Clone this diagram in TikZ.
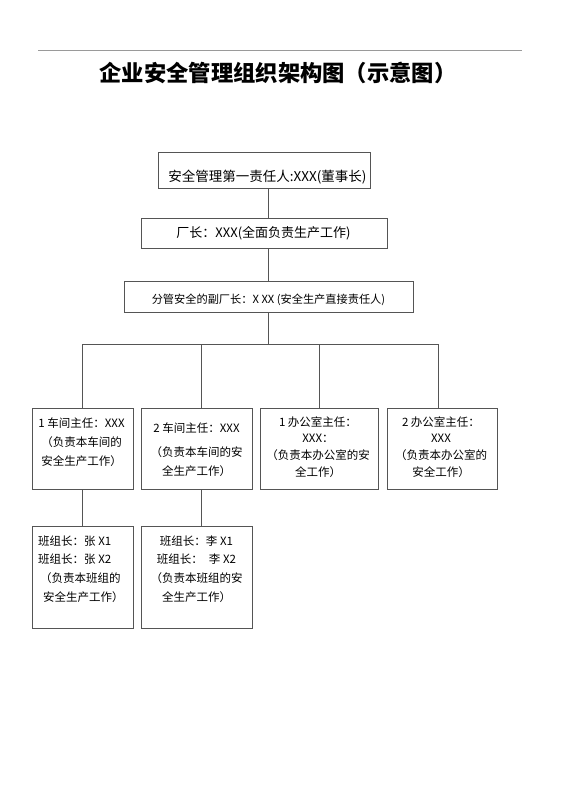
\documentclass[tikz,border=0pt]{standalone}
\usepackage{fontspec}
\setmainfont{Noto Sans CJK SC}
\definecolor{linegray}{HTML}{555555}
\definecolor{rulegray}{HTML}{9A9A9A}
\begin{document}
\begin{tikzpicture}[x=1pt,y=-1pt,
  box/.style={draw=linegray, line width=0.9pt, inner sep=0pt},
  conn/.style={draw=linegray, line width=0.9pt},
  small/.style={inner sep=0pt, text=black, font=\fontsize{11.5}{19}\selectfont, align=center}]
\useasboundingbox (0,0) rectangle (560,792);
\fill[white] (0,0) rectangle (560,792);
% top rule and title
\coordinate (ruleL) at (38,50.7);
\coordinate (ruleR) at (522,50.7);
\draw[rulegray, line width=1.3pt] (ruleL) -- (ruleR);
\node[inner sep=0pt, font=\fontsize{22.3}{26}\selectfont\bfseries] (title) at (278,73) {企业安全管理组织架构图（示意图）};
% boxes
\node[box, minimum width=212pt, minimum height=36pt] (b1) at (264,170) {};
\node[box, minimum width=246pt, minimum height=30pt] (b2) at (264,233) {};
\node[box, minimum width=289pt, minimum height=31pt] (b3) at (268.5,296.5) {};
\node[box, minimum width=101pt, minimum height=81pt] (A) at (82.5,448.5) {};
\node[box, minimum width=111pt, minimum height=81pt] (B) at (196.5,448.5) {};
\node[box, minimum width=118pt, minimum height=81pt] (C) at (319,448.5) {};
\node[box, minimum width=110pt, minimum height=81pt] (D) at (442,448.5) {};
\node[box, minimum width=101pt, minimum height=102pt] (E) at (82.5,577) {};
\node[box, minimum width=111pt, minimum height=102pt] (F) at (196.5,577) {};
% texts
\node[inner sep=0pt, font=\fontsize{13.5}{16}\selectfont] (t1) at (267.5,177) {安全管理第一责任人:XXX(董事长)};
\node[inner sep=0pt, font=\fontsize{13}{16}\selectfont] (t2) at (263.5,233) {厂长：XXX(全面负责生产工作)};
\node[inner sep=0pt, font=\fontsize{11.2}{15}\selectfont] (t3) at (268.5,300) {分管安全的副厂长：X XX (安全生产直接责任人)};
\node[small] (tA) at (81.5,442) {1 车间主任：XXX\\（负责本车间的\\安全生产工作）};
\node[small] (tB) at (196.5,449.5) {2 车间主任：XXX\\[5pt]（负责本车间的安\\全生产工作）};
\node[small, font=\fontsize{11.5}{16.7}\selectfont] (tC) at (318,447) {1 办公室主任：\\XXX：\\（负责本办公室的安\\全工作）};
\node[small, font=\fontsize{11.5}{16.7}\selectfont] (tD) at (441,447) {2 办公室主任：\\XXX\\（负责本办公室的\\安全工作）};
\node[small, font=\fontsize{11.5}{18.7}\selectfont, align=left, anchor=west] (tE) at (38,569) {班组长：张 X1\\班组长：张 X2\\\hspace{2pt}（负责本班组的\\\hspace{5pt}安全生产工作）};
\node[small, font=\fontsize{11.5}{18.7}\selectfont] (tF) at (196.5,569) {班组长：李 X1\\班组长：\hspace{6pt}李 X2\\（负责本班组的安\\全生产工作）};
% connectors
\coordinate (trunk) at (268,0);
\coordinate (bus) at (268,344);
\coordinate (bB) at (201,344);
\coordinate (bD) at (438,344);
\draw[conn] (b1.south -| trunk) -- (b2.north -| trunk);
\draw[conn] (b2.south -| trunk) -- (b3.north -| trunk);
\draw[conn] (b3.south -| trunk) -- (bus);
\draw[conn] (A.north) |- (bD) -- (bD |- D.north);
\draw[conn] (bB) -- (bB |- B.north);
\draw[conn] (C.north |- bus) -- (C.north);
\draw[conn] (A.south) -- (E.north);
\draw[conn] (bB |- B.south) -- (bB |- F.north);
\end{tikzpicture}
\end{document}
